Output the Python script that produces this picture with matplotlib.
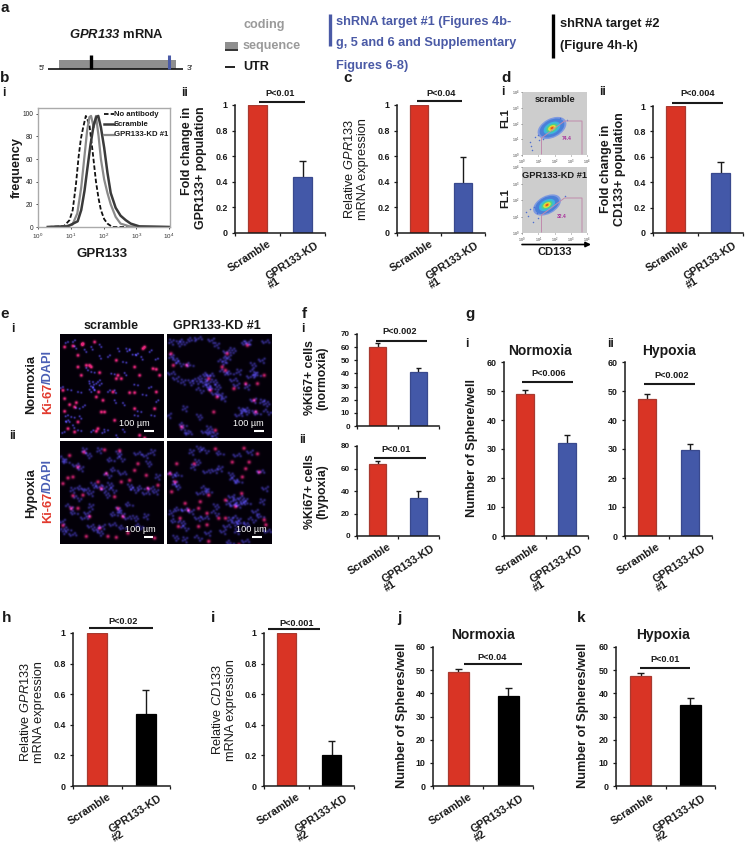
import numpy as np
import matplotlib
matplotlib.use("Agg")
import matplotlib.pyplot as plt
from matplotlib.patches import Ellipse, Rectangle

plt.rcParams['font.family'] = ['Liberation Sans', 'DejaVu Sans']
plt.rcParams['mathtext.fontset'] = 'custom'
plt.rcParams['mathtext.rm'] = 'Liberation Sans'
plt.rcParams['mathtext.it'] = 'Liberation Sans:italic'
plt.rcParams['mathtext.bf'] = 'Liberation Sans:bold'
plt.rcParams['mathtext.bfit'] = 'Liberation Sans:italic:bold'

W, H = 745, 844
fig = plt.figure(figsize=(W / 100, H / 100), dpi=100, facecolor='white')

RED, RED_E = '#D93425', '#A83A30'
BLUE, BLUE_E = '#4358A8', '#39498E'
INK = '#1a1a1a'
SHRNA_BLUE = '#4A5AA6'

# ---------- data ----------
ticks_frac = [0, 0.2, 0.4, 0.6, 0.8, 1]
labels_frac = ['0', '0.2', '0.4', '0.6', '0.8', '1']
ticks_60 = [0, 10, 20, 30, 40, 50, 60]

b2_vals, b2_tops = [1.0, 0.435], [1.0, 0.565]
c_vals, c_tops = [1.0, 0.39], [1.0, 0.595]
d2_vals, d2_tops = [1.0, 0.47], [1.0, 0.56]
f1_vals, f1_tops = [60, 41], [63, 44.5]
f2_vals, f2_tops = [64, 34], [67, 40]
g1_vals, g1_tops = [49, 32], [50.3, 35]
g2_vals, g2_tops = [47.3, 29.7], [48.8, 31.8]
h_vals, h_tops = [1.0, 0.47], [1.0, 0.63]
i_vals, i_tops = [1.0, 0.2], [1.0, 0.295]
j_vals, j_tops = [49, 39], [50.3, 42.2]
k_vals, k_tops = [47.4, 35], [48.8, 38]

# flow histogram (log10 intensity, frequency)
noab_x = [0.3, 0.6, 0.8, 0.96, 1.06, 1.16, 1.24, 1.31, 1.38, 1.46, 1.52, 1.57, 1.67, 1.77, 1.85, 1.92, 2.02, 2.12, 2.27, 3.0, 4.0]
noab_y = [0, 0.5, 1, 6, 15, 38, 62, 78, 88, 98, 94, 90, 66, 40, 25, 15, 7, 3, 0, 0, 0]
kd_x = [0.3, 0.8, 1.05, 1.2, 1.32, 1.41, 1.5, 1.57, 1.62, 1.7, 1.77, 1.85, 1.92, 2.02, 2.12, 2.22, 2.37, 2.52, 2.8, 4.0]
kd_y = [0, 0.5, 2, 12, 35, 60, 85, 97, 98, 88, 98, 80, 60, 42, 30, 20, 9, 3, 0.5, 0]
scr_x = [0.3, 0.9, 1.21, 1.32, 1.42, 1.5, 1.6, 1.7, 1.78, 1.84, 1.92, 2.02, 2.12, 2.22, 2.37, 2.52, 2.68, 2.83, 3.1, 4.0]
scr_y = [0, 0.5, 5, 15, 32, 50, 72, 90, 97, 98, 88, 70, 48, 30, 17, 10, 6, 3, 0.5, 0]

# immuno-fluorescence cell positions (reference pixels x3)
e1_red = [(45,42),(73,38),(20,45),(60,70),(110,30),(95,100),(85,100),(125,122),(175,85),(230,105),(295,112),(305,130),(180,130),(190,140),(245,130),(215,182),(230,182),(122,180),(115,195),(130,240),(135,205),(60,105),(50,225),(35,218),(20,238),(60,270),(120,290),(115,298),(170,265),(230,230),(290,230),(295,180),(285,110),(255,50),(260,45),(15,175),(70,130),(55,212),(245,310),(260,318),(165,180),(50,300),(30,290),(140,240),(75,35),(100,105),(175,140),(20,200)]
e1_blue = [(30,30),(45,30),(100,45),(130,45),(205,50),(235,70),(240,65),(150,75),(125,72),(90,115),(100,120),(105,150),(115,155),(125,160),(105,165),(100,180),(60,180),(40,175),(15,165),(150,180),(170,175),(205,130),(160,125),(240,160),(280,165),(295,210),(170,205),(200,220),(230,250),(65,230),(30,250),(25,270),(45,280),(70,260),(60,295),(150,295),(140,300),(100,300),(175,310),(200,300),(280,250),(250,240),(300,80),(275,60),(180,50),(85,60),(195,90),(265,190),(215,55),(120,150),(95,155),(110,175),(40,255),(35,270),(20,300),(75,225),(250,75),(55,50)]
e2_red = [(18,65),(25,100),(65,100),(130,140),(135,175),(205,170),(170,105),(180,115),(240,155),(275,155),(155,195),(270,240),(145,240),(150,295),(50,285),(265,205),(185,65),(245,40),(295,130)]
e2_blue = [(20,30),(40,35),(55,30),(80,25),(100,20),(140,25),(20,75),(30,85),(45,95),(75,100),(20,125),(35,140),(55,150),(75,152),(95,148),(110,140),(185,60),(190,75),(180,85),(200,55),(170,90),(125,130),(135,130),(120,150),(130,155),(145,150),(125,165),(140,170),(150,185),(165,190),(175,200),(155,165),(175,120),(195,125),(205,145),(215,160),(220,120),(260,100),(265,120),(275,130),(255,135),(290,85),(245,165),(225,235),(240,240),(250,235),(220,250),(265,205),(290,210),(300,215),(305,240),(275,245),(120,300),(135,305),(150,310),(130,290),(60,295),(55,280),(70,305),(12,250),(60,230),(100,255),(105,175),(240,35),(300,30),(250,30),(155,40)]
e3_red = [(140,33),(78,40),(35,50),(240,75),(60,85),(145,105),(30,118),(45,115),(230,95),(190,130),(215,125),(120,130),(45,172),(75,170),(130,150),(170,175),(270,150),(300,140),(15,135),(180,210),(195,235),(40,210),(60,210),(15,262),(95,235),(125,270),(150,295),(175,298),(210,285),(290,300),(85,295),(265,110),(185,35)]
e3_blue = [(80,35),(90,50),(15,60),(25,70),(55,80),(70,90),(125,35),(180,45),(190,60),(160,65),(240,45),(265,50),(285,40),(270,75),(150,110),(170,95),(195,105),(125,145),(140,150),(155,140),(165,155),(70,150),(85,155),(100,165),(45,155),(215,145),(230,155),(250,150),(265,165),(280,150),(295,160),(145,170),(35,205),(50,225),(80,240),(90,225),(100,205),(180,215),(190,225),(170,230),(210,240),(100,265),(115,275),(125,285),(15,280),(30,275),(45,290),(15,250),(265,235),(230,240),(245,265),(195,270),(165,260),(135,265),(300,115),(105,140),(60,180),(215,200)]
e4_red = [(150,30),(235,28),(275,45),(87,75),(35,75),(200,70),(250,70),(240,90),(280,100),(230,115),(15,105),(30,130),(20,160),(130,170),(105,190),(60,195),(228,165),(210,205),(180,185),(100,210),(70,215),(125,225),(160,240),(45,240),(40,265),(100,265),(130,310),(220,320),(295,245),(300,260),(180,240),(125,260)]
e4_blue = [(80,40),(100,30),(120,35),(165,45),(215,50),(255,40),(85,85),(95,70),(20,108),(40,110),(125,100),(150,95),(165,90),(195,110),(205,125),(220,130),(285,100),(300,150),(30,135),(35,145),(120,150),(130,160),(105,165),(200,175),(210,185),(225,190),(235,180),(245,195),(205,200),(220,200),(190,195),(150,205),(150,225),(40,215),(60,215),(80,220),(20,225),(50,255),(60,270),(30,250),(120,240),(100,240),(195,245),(205,255),(215,240),(225,255),(185,265),(175,280),(215,280),(240,260),(260,245),(285,235),(305,280),(130,285),(60,305),(30,300),(100,300),(195,315),(240,310),(270,220),(290,190)]
cell_spread = [(-7, 3), (6, -5), (4, 8), (-5, -7), (10, 2), (-11, -2)]

# flow cytometry stray events (reference pixels)
d_scr_events = [(539,140),(538,135),(535,137),(543,139),(531,146),(532,150),(560,118),(567,120),(530,142)]
d_kd_events = [(533,222),(528,216),(537,213),(526,212),(530,209),(565,196),(538,218),(534,207)]

# ---------- helpers ----------
def ax_px(x0, y0, x1, y1):
    return fig.add_axes([x0 / W, 1 - y1 / H, (x1 - x0) / W, (y1 - y0) / H])

ov = fig.add_axes([0, 0, 1, 1], zorder=20)
ov.set_xlim(0, W); ov.set_ylim(H, 0); ov.axis('off'); ov.patch.set_alpha(0)

def T(x, y, s, size=8, color=INK, weight='bold', ha='center', va='center', rot=0, **kw):
    return ov.text(x, y, s, fontsize=size, color=color, fontweight=weight, ha=ha, va=va, rotation=rot, **kw)

def L(xs, ys, color=INK, lw=1.6, **kw):
    ov.plot(xs, ys, color=color, lw=lw, solid_capstyle='butt', **kw)

def barpanel(box, vals, tops, ylim, yticks, ylabels, bar_colors, edge_colors, second, width=0.42, tsize=6.4):
    x0, y0, x1, y1 = box
    ax = ax_px(x0, y0, x1, y1)
    pos = [0.5, 1.5]
    ax.bar(pos, vals, width=width, color=bar_colors, edgecolor=edge_colors, linewidth=0.9, zorder=2)
    ax.vlines(pos, vals, tops, color=INK, lw=1.0, zorder=1)
    cap = 0.07
    for p, t, v in zip(pos, tops, vals):
        if t > v:
            ax.hlines(t, p - cap, p + cap, color=INK, lw=1.0)
    ax.set_xlim(0, 2); ax.set_ylim(ylim)
    ax.patch.set_alpha(0)
    for s in ('top', 'right'):
        ax.spines[s].set_visible(False)
    for s in ('left', 'bottom'):
        ax.spines[s].set_linewidth(1.1); ax.spines[s].set_color(INK)
    ax.spines['left'].set_bounds(ylim)
    ax.set_yticks(yticks); ax.set_yticklabels(ylabels, fontsize=tsize, fontweight='bold', color=INK)
    ax.set_xticks([0, 1, 2]); ax.set_xticklabels([])
    ax.tick_params(axis='y', length=2.2, width=0.9, pad=3, color=INK)
    ax.tick_params(axis='x', length=1.8, width=0.9, color=INK)
    # category labels
    if second:
        ptx = lambda v: x0 + (x1 - x0) * v / 2
        by = y1 + 6
        T(ptx(0.5) + 10, by, 'Scramble', size=7.8, weight='bold', ha='right', va='top', rot=33, rotation_mode='anchor')
        T(ptx(1.5) + 12, by + 1, 'GPR133-KD', size=7.8, weight='bold', ha='right', va='top', rot=33, rotation_mode='anchor')
        T(ptx(1.5) - 28, by + 44, second, size=7.8, weight='bold', ha='center', va='center', rot=33)
    return ax

def P(tx, ty, s, x0, x1, ly):
    T(tx, ty, s, size=6.6)
    L([x0, x1], [ly, ly], lw=1.5)

RB, RBE = [RED, BLUE], [RED_E, BLUE_E]
RK, RKE = [RED, 'black'], [RED_E, 'black']

# ---------- panels ----------
barpanel((235, 105, 325, 233), b2_vals, b2_tops, (0, 1), ticks_frac, labels_frac, RB, RBE, '#1')
barpanel((397, 105, 485, 233), c_vals, c_tops, (0, 1), ticks_frac, labels_frac, RB, RBE, '#1')
barpanel((653, 106, 743, 233), d2_vals, d2_tops, (0, 1), ticks_frac, labels_frac, RB, RBE, '#1')
barpanel((357, 334, 439, 426), f1_vals, f1_tops, (0, 70), list(range(0, 71, 10)), [str(v) for v in range(0, 71, 10)], RB, RBE, '', tsize=5.8)
barpanel((357, 446, 439, 536), f2_vals, f2_tops, (0, 80), [0, 20, 40, 60, 80], ['0', '20', '40', '60', '80'], RB, RBE, '#1', tsize=5.8)
barpanel((504, 362, 588, 536), g1_vals, g1_tops, (0, 60), ticks_60, [str(v) for v in ticks_60], RB, RBE, '#1')
barpanel((625, 362, 712, 536), g2_vals, g2_tops, (0, 60), ticks_60, [str(v) for v in ticks_60], RB, RBE, '#1')
barpanel((73, 633, 170, 786), h_vals, h_tops, (0, 1), ticks_frac, labels_frac, RK, RKE, '#2')
barpanel((264, 633, 354, 786), i_vals, i_tops, (0, 1), ticks_frac, labels_frac, RK, RKE, '#2')
barpanel((433, 647, 533, 786), j_vals, j_tops, (0, 60), ticks_60, [str(v) for v in ticks_60], RK, RKE, '#2')
barpanel((616, 647, 715, 786), k_vals, k_tops, (0, 60), ticks_60, [str(v) for v in ticks_60], RK, RKE, '#2')

P(280, 94, 'P<0.01', 259, 305, 102)
P(441, 93, 'P<0.04', 417, 462, 101)
P(698, 93, 'P<0.004', 672, 723, 103)
P(400, 332, 'P<0.002', 376, 427, 341)
P(396, 449, 'P<0.01', 374, 426, 458)
P(549, 374, 'P<0.006', 522, 573, 382)
P(672, 376, 'P<0.002', 644, 695, 384)
P(123, 622, 'P<0.02', 89, 153, 628)
P(297, 623, 'P<0.001', 268, 320, 629)
P(492, 658, 'P<0.04', 464, 522, 664)
P(665, 660, 'P<0.01', 640, 690, 668)

# y axis titles
T(194, 168, 'Fold change in\nGPR133+ population', size=9, rot=90, linespacing=1.15, ma='right')
T(356, 169, 'Relative $\\mathit{GPR133}$\nmRNA expression', size=9.2, weight='normal', rot=90, linespacing=1.15)
T(613, 169, 'Fold change in\nCD133+ population', size=9, rot=90, linespacing=1.15)
T(316, 378, '%Ki67+ cells\n(normoxia)', size=8.8, rot=90, linespacing=1.1)
T(316, 492, '%Ki67+ cells\n(hypoxia)', size=8.8, rot=90, linespacing=1.1)
T(472, 448, 'Number of Sphere/well', size=9.2, rot=90)
T(32, 712, 'Relative $\\mathit{GPR133}$\nmRNA expression', size=9.2, weight='normal', rot=90, linespacing=1.15)
T(224, 710, 'Relative $\\mathit{CD133}$\nmRNA expression', size=9.2, weight='normal', rot=90, linespacing=1.15)
T(402, 715, 'Number of Spheres/well', size=9.2, rot=90)
T(583, 715, 'Number of Spheres/well', size=9.2, rot=90)

# titles
T(540, 351, 'Normoxia', size=10)
T(669, 351, 'Hypoxia', size=10)
T(483, 635, 'Normoxia', size=10)
T(663, 635, 'Hypoxia', size=10)

# panel letters
for x, y, s in [(5, 8, 'a'), (5, 78, 'b'), (348, 78, 'c'), (506, 78, 'd'), (5, 314, 'e'), (304, 314, 'f'),
                (470, 314, 'g'), (7, 618, 'h'), (213, 618, 'i'), (399, 618, 'j'), (581, 618, 'k')]:
    T(x, y, s, size=11)
for x, y, s in [(4, 93, 'i'), (184, 93, 'ii'), (503, 92, 'i'), (603, 92, 'ii'), (13, 329, 'i'), (13, 436, 'ii'),
                (303, 329, 'i'), (303, 440, 'ii'), (467, 344, 'i'), (610, 344, 'ii')]:
    T(x, y, s, size=8.5)

# ---------- panel a ----------
T(116, 35, '$\\mathbfit{GPR133}$ mRNA', size=9.4)
ov.add_patch(Rectangle((58.5, 59.5), 117, 9, fc='#8f8f8f', ec='none'))
L([48, 183], [68.6, 68.6], lw=1.2, color='#111111')
L([91, 91], [55, 68.6], lw=2.4, color='black')
L([169, 169], [55, 68.6], lw=2.2, color=SHRNA_BLUE)
T(42, 68, "5'", size=6, weight='normal')
T(190, 68, "3'", size=6, weight='normal')
ov.add_patch(Rectangle((225, 42), 13, 7, fc='#8f8f8f', ec='none'))
L([225, 238], [49.5, 49.5], lw=1.2, color='#111111')
L([225, 235], [67, 67], lw=1.3, color='#111111')
T(243, 25, 'coding', size=9.1, color='#9a9a9a', ha='left')
T(243, 46.5, 'sequence', size=9.1, color='#9a9a9a', ha='left')
T(243, 67, 'UTR', size=9.1, ha='left')
L([330, 330], [14, 46], lw=2.4, color=SHRNA_BLUE)
for y, s in [(21.5, 'shRNA target #1 (Figures 4b-'), (43, 'g, 5 and 6 and Supplementary'), (66, 'Figures 6-8)')]:
    T(336, y, s, size=9.2, color=SHRNA_BLUE, ha='left')
L([553, 553], [14, 58], lw=2.4, color='black')
T(560, 24, 'shRNA target #2', size=9.3, ha='left')
T(560, 46, '(Figure 4h-k)', size=9.3, ha='left')

# ---------- panel b-i ----------
axh = ax_px(38, 108, 170, 227)
axh.plot(noab_x, noab_y, color='#111111', lw=1.3, ls=(0, (2.5, 1.2)))
axh.plot(kd_x, kd_y, color='#8a8a8a', lw=1.6)
axh.plot(scr_x, scr_y, color='#3a3a3a', lw=1.8)
axh.set_xlim(0.03, 4.03); axh.set_ylim(0, 105)
axh.set_xticks(range(5)); axh.set_xticklabels(['$10^{%d}$' % i for i in range(5)], fontsize=4.5, color='#333333')
axh.set_yticks(range(0, 101, 20)); axh.set_yticklabels([str(v) for v in range(0, 101, 20)], fontsize=4.8, color='#222222')
axh.tick_params(length=1.5, width=0.5, pad=2)
for s in axh.spines.values():
    s.set_color('#aaaaaa'); s.set_linewidth(1)
T(17, 167, 'frequency', size=9.2, rot=90)
T(102, 254, 'GPR133', size=9.5)
for y, s, c, kw in [(114, 'No antibody', '#111111', dict(ls=(0, (2.5, 1.2)), lw=1.3)),
                    (124, 'Scramble', '#3a3a3a', dict(lw=1.8)),
                    (135, 'GPR133-KD #1', '#8a8a8a', dict(lw=1.6))]:
    ov.plot([104, 114], [y, y], color=c, **kw)
    T(114, y, s, size=5.6, ha='left')

# ---------- panel d-i ----------
def flow(box, cx, cy, w, h, events, pct, gate_y, label):
    x0, y0, x1, y1 = box
    ax = ax_px(x0, y0, x1, y1)
    ax.set_facecolor('#cdcdcd')
    ax.set_xlim(0, 4); ax.set_ylim(0, 4)
    ax.set_xticks(range(5)); ax.set_yticks(range(5))
    ax.set_xticklabels(['$10^{%d}$' % i for i in range(5)], fontsize=2.6, color='#333333')
    ax.set_yticklabels(['$10^{%d}$' % i for i in range(5)], fontsize=2.6, color='#333333')
    ax.tick_params(length=1.0, width=0.4, color='#333333', pad=0.6)
    for s in ax.spines.values():
        s.set_visible(False)
    for f, c in [(1.0, '#7f9ae0'), (0.86, '#4a7fd8'), (0.58, '#3cb6dc'), (0.4, '#4fd088'), (0.27, '#dbe23f'), (0.16, '#f29a22'), (0.07, '#e02a1a')]:
        ov.add_patch(Ellipse((cx, cy), w * f, h * f, angle=-28, fc=c, ec='none'))
    xs, ys = zip(*events)
    ov.scatter(xs, ys, s=1.2, color='#4f6fd0', lw=0)
    gx0, gx1 = x0 + (x1 - x0) * 0.3, x1 - 5
    gy = gate_y
    ov.plot([gx0, gx0, gx0 + 23, gx1, gx1], [y1 - 1, gy + 17, gy, gy, y1 - 1], color='#c08aac', lw=0.7)
    T(cx + 15, gy + 18, pct, size=3.6, color='#a8309a')
    T((x0 + x1) / 2 + 0.5, y0 + 8, label, size=6.7, color=INK)

flow((522, 92, 587, 155), 552, 128, 31, 19, d_scr_events, '74.4', 121, 'scramble')
flow((522, 167, 587, 233), 547, 205, 30, 18, d_kd_events, '32.4', 198, 'GPR133-KD #1')
T(505, 118, 'FL1', size=8, rot=90)
T(505, 198, 'FL1', size=8, rot=90)
ov.annotate('', xy=(591, 244.5), xytext=(522, 244.5), arrowprops=dict(arrowstyle='-|>,head_width=0.15,head_length=0.3', lw=1.2, color='black', shrinkA=0, shrinkB=0))
T(555, 252, 'CD133', size=8)

# ---------- panel e ----------
def glow(points, sigma):
    g = np.arange(6, 318, 3.0) + 1.5
    xx, yy = np.meshgrid(g, g)
    out = np.zeros_like(xx)
    for px, py in points:
        out += np.exp(-((xx - px) ** 2 + (yy - py) ** 2) / (2 * sigma ** 2))
    return out

def micro(box, red, blue, spread):
    x0, y0, x1, y1 = box
    ax = ax_px(x0, y0, x1, y1)
    ax.set_xticks([]); ax.set_yticks([])
    for s in ax.spines.values():
        s.set_visible(False)
    pts = list(blue)
    for k, (px, py) in enumerate(blue):
        for j in range(spread):
            ox, oy = cell_spread[(k + j) % len(cell_spread)]
            pts.append((px + ox, py + oy))
    b = np.clip(glow(pts, 2.4) * 0.72, 0, 1)
    r = np.clip(glow(red, 3.6) * 1.0, 0, 1)
    img = np.zeros(b.shape + (3,))
    bg = np.array([0.012, 0.0, 0.035])
    for c in range(3):
        img[..., c] = bg[c] + b * [0.30, 0.27, 0.80][c] + r * [0.88, 0.15, 0.44][c]
    ax.imshow(np.clip(img, 0, 1), extent=(6, 318, 324, 12), interpolation='bicubic', aspect='auto')

micro((60, 334, 164, 438), e1_red, e1_blue, 1)
micro((167, 334, 272, 438), e2_red, e2_blue, 4)
micro((60, 441, 164, 544), e3_red, e3_blue, 4)
micro((167, 441, 272, 544), e4_red, e4_blue, 4)
for tx, ty, b0, b1, by in [(134, 424, 144, 154, 431), (248, 424, 254, 264, 431), (140, 529, 144, 153, 537), (251, 529, 252, 262, 537)]:
    T(tx, ty, '100 \u00b5m', size=6.6, color='white', weight='normal')
    L([b0, b1], [by, by], color='white', lw=1.5)
T(111, 326, 'scramble', size=9)
T(217, 326, 'GPR133-KD #1', size=9)
T(31, 385, 'Normoxia', size=9.2, rot=90)
T(48, 414, 'Ki-67', size=9.2, color='#E23A2E', rot=90, va='bottom')
T(48, 384, '/DAPI', size=9.2, color='#4A5FB5', rot=90, va='bottom')
T(31, 493, 'Hypoxia', size=9.2, rot=90)
T(48, 523, 'Ki-67', size=9.2, color='#E23A2E', rot=90, va='bottom')
T(48, 493, '/DAPI', size=9.2, color='#4A5FB5', rot=90, va='bottom')

fig.savefig('out.png', dpi=100, facecolor='white')
